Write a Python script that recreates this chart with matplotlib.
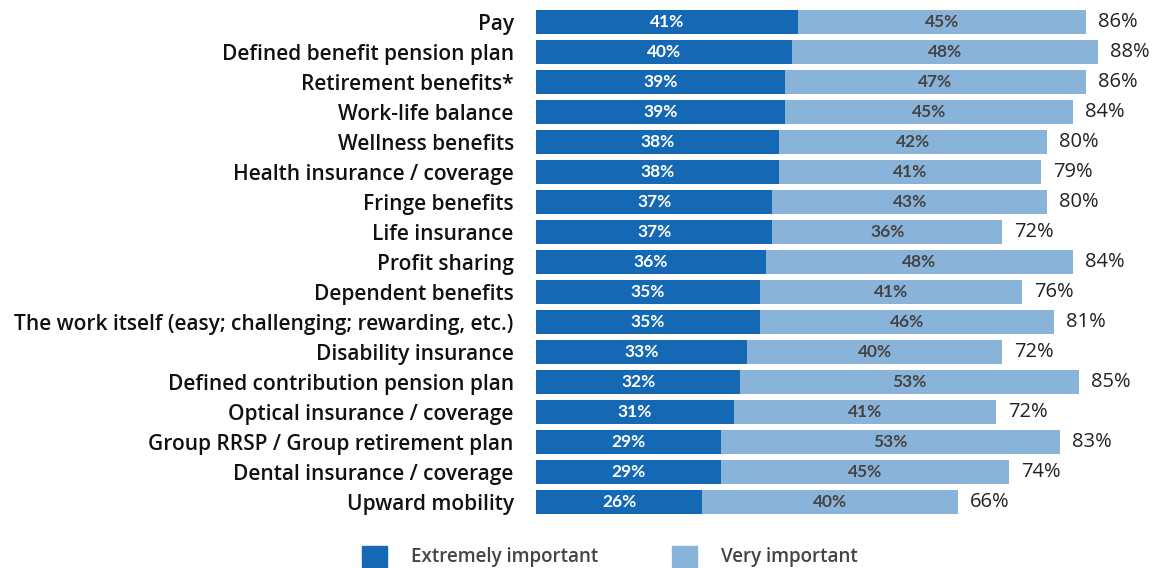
import matplotlib
matplotlib.use("Agg")
import matplotlib.pyplot as plt
from matplotlib.patches import Patch

categories = [
    "Pay", "Defined benefit pension plan", "Retirement benefits*", "Work-life balance",
    "Wellness benefits", "Health insurance / coverage", "Fringe benefits", "Life insurance",
    "Profit sharing", "Dependent benefits", "The work itself (easy; challenging; rewarding, etc.)",
    "Disability insurance", "Defined contribution pension plan", "Optical insurance / coverage",
    "Group RRSP / Group retirement plan", "Dental insurance / coverage", "Upward mobility",
]
extremely = [41, 40, 39, 39, 38, 38, 37, 37, 36, 35, 35, 33, 32, 31, 29, 29, 26]
very = [45, 48, 47, 45, 42, 41, 43, 36, 48, 41, 46, 40, 53, 41, 53, 45, 40]
totals = [86, 88, 86, 84, 80, 79, 80, 72, 84, 76, 81, 72, 85, 72, 83, 74, 66]
series_names = ["Extremely important", "Very important"]

DARK = "#1569b4"
LIGHT = "#8ab3da"
W, H = 1159, 568
FONT = "Open Sans"
BOLD_FONT = "Lato"

fig = plt.figure(figsize=(W / 100, H / 100), dpi=100)
left_px, right_px = 536, 1159
top_px, bottom_px = 7, 517
ax = fig.add_axes([left_px / W, (H - bottom_px) / H, (right_px - left_px) / W, (bottom_px - top_px) / H])
px_per_pct = 6.39
ax.set_xlim(0, (right_px - left_px) / px_per_pct)
n = len(categories)
ax.set_ylim(n - 0.5, -0.5)
ys = list(range(n))

ax.barh(ys, extremely, height=0.77, color=DARK, label=series_names[0])
ax.barh(ys, very, left=extremely, height=0.77, color=LIGHT, label=series_names[1])

for y, e, v, t in zip(ys, extremely, very, totals):
    ax.text(e / 2, y, f"{e}%", ha="center", va="center", color="white",
            fontsize=12.5, fontweight="bold", family=BOLD_FONT)
    ax.text(e + v / 2, y, f"{v}%", ha="center", va="center", color="#444444",
            fontsize=12.5, fontweight="bold", family=BOLD_FONT)
    ax.text(e + v + 1.9, y, f"{t}%", ha="left", va="center", color="#222222",
            fontsize=14.5, family=FONT)

ax.set_yticks(ys)
ax.set_yticklabels(categories, fontsize=15, family=FONT, fontweight="semibold", color="#111111")
ax.tick_params(axis="y", length=0, pad=16)
ax.set_xticks([])
for s in ax.spines.values():
    s.set_visible(False)

handles = [Patch(color=DARK), Patch(color=LIGHT)]
leg = fig.legend(handles, series_names, loc="center left",
                 bbox_to_anchor=(345 / W, (H - 556.5) / H), ncol=2, frameon=False,
                 prop={"family": FONT, "size": 13.5, "weight": "semibold"},
                 handlelength=1.35, handleheight=1.35, handletextpad=1.25, columnspacing=3.95)
for txt in leg.get_texts():
    txt.set_color("#444444")

fig.savefig("out.png", dpi=100)
